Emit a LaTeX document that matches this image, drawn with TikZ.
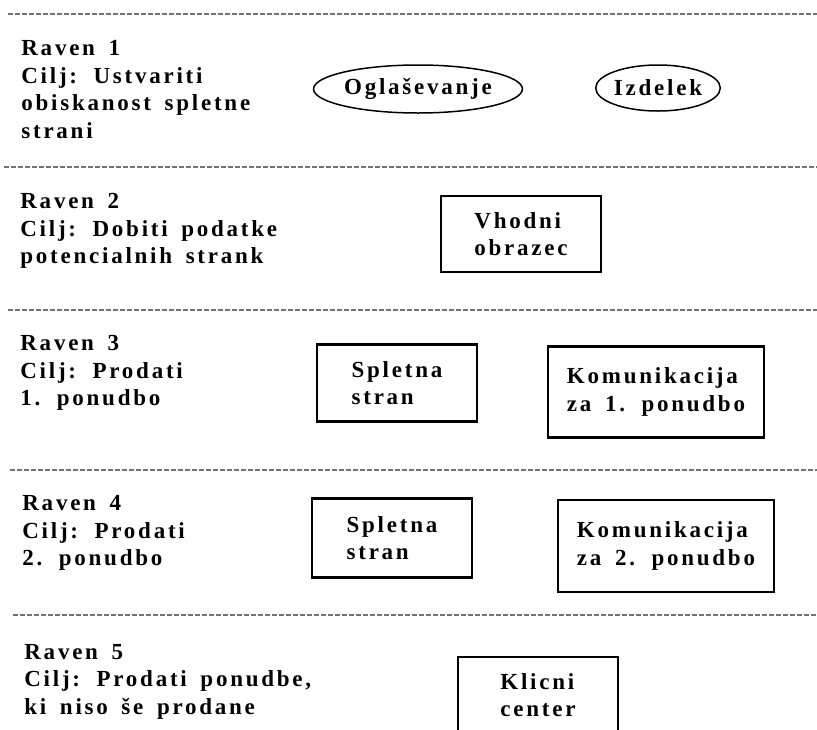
\documentclass[tikz,border=0pt]{standalone}
\usepackage{fontspec}
\setmainfont{Liberation Serif}[LetterSpace=12,WordSpace=1.6]
\usetikzlibrary{shapes.geometric}

\begin{document}
\begin{tikzpicture}
            [x=1pt,y=-1pt,thick,
             every node/.style={font=\bfseries\fontsize{23}{27.5}\selectfont,inner sep=0pt},
             lvl/.style={anchor=north west,align=left},
             oval/.style={ellipse,draw,line width=1.5pt},
             box/.style={draw,line width=2.4pt,minimum width=160pt,minimum height=77pt,align=left},
             wide/.style={box,minimum width=216pt,minimum height=91pt},
             sep/.style={black!55,line width=1.8pt,dash pattern=on 4.5pt off 2.5pt}]
            \useasboundingbox (0,0) rectangle (817,729);
            \clip (0,0) rectangle (817,729);
            % separators
            \draw[sep] (8,14) -- (817,14);
            \draw[sep] (4,167) -- (817,167);
            \draw[sep] (8,310) -- (817,310);
            \draw[sep] (10,470) -- (817,470);
            \draw[sep] (13,615) -- (817,615);
            % levels
            \node[lvl] (r1) at (21,40) {Raven 1\\Cilj: Ustvariti\\obiskanost spletne\\strani};
            \node[lvl] (r2) at (20,193) {Raven 2\\Cilj: Dobiti podatke\\potencialnih strank};
            \node[lvl] (r3) at (20,335) {Raven 3\\Cilj: Prodati\\1. ponudbo};
            \node[lvl] (r4) at (22,495) {Raven 4\\Cilj: Prodati\\2. ponudbo};
            \node[lvl] (r5) at (24,644) {Raven 5\\Cilj: Prodati ponudbe,\\ki niso še prodane};
            % steps
            \node[oval,minimum width=190pt,minimum height=48pt] (ogl) at (418,89) {Oglaševanje};
            \node[oval,minimum width=120pt,minimum height=46pt] (izd) at (658,88) {Izdelek};
            \node[box,minimum height=76pt] (vho) at (521,234) {Vhodni\\obrazec};
            \node[box] (spl3) at (397,383) {Spletna\\stran};
            \node[wide] (kom1) at (656,392) {Komunikacija\\za 1. ponudbo};
            \node[box,minimum height=79pt] (spl4) at (392,538) {Spletna\\stran};
            \node[wide,minimum height=92pt] (kom2) at (666,546) {Komunikacija\\za 2. ponudbo};
            \node[box,minimum height=76pt] (kli) at (538,695) {Klicni\\center};
        \end{tikzpicture}
\end{document}
